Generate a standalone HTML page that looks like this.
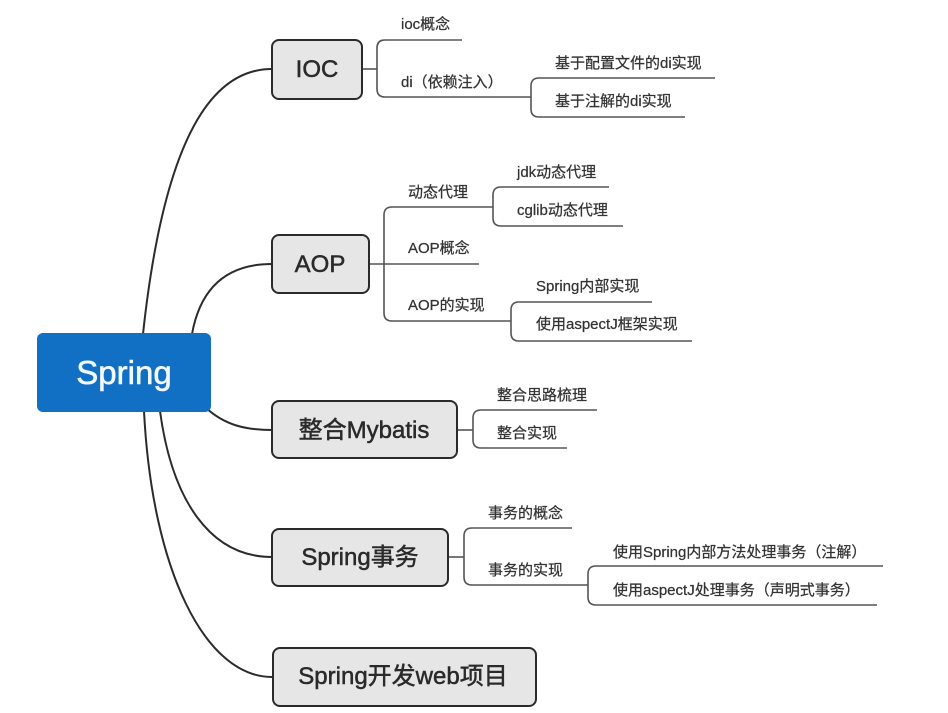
<!DOCTYPE html>
<html><head><meta charset="utf-8"><style>
html,body{margin:0;padding:0;background:#fff;}
svg{display:block;}
.t{font-family:"Liberation Sans","Noto Sans CJK SC",sans-serif;font-size:15px;fill:#333;stroke:#333;stroke-width:0.25;}
.b{font-family:"Liberation Sans","Noto Sans CJK SC",sans-serif;font-size:24px;fill:#2a2a2a;stroke:#2a2a2a;stroke-width:0.5;}
</style></head><body>
<svg width="948" height="713" viewBox="0 0 948 713" xmlns="http://www.w3.org/2000/svg">
<rect width="948" height="713" fill="#fff"/>
<!-- main curves -->
<g fill="none" stroke="#2b2b2b" stroke-width="2">
<path d="M143,334 C165,130 215,69 272,69"/>
<path d="M192,334 C200,290 225,264 272,264"/>
<path d="M206,408 C225,425 245,430 272,430"/>
<path d="M160,411 C172,500 210,557 272,557"/>
<path d="M144,411 C152,570 205,677 272,677"/>
</g>
<!-- sub connectors -->
<g fill="none" stroke="#555" stroke-width="1.6">
<path d="M362,69 H377"/>
<path d="M462,40 H385 Q377,40 377,48 V89 Q377,97 385,97 H531"/>
<path d="M715,78 H539 Q531,78 531,86 V109 Q531,117 539,117 H685"/>
<path d="M369,264 H384 M384,264 H479"/>
<path d="M493,207 H392 Q384,207 384,215 V313 Q384,321 392,321 H511"/>
<path d="M609,187 H501 Q493,187 493,195 V218 Q493,226 501,226 H623"/>
<path d="M652,302 H519 Q511,302 511,310 V333 Q511,341 519,341 H692"/>
<path d="M457,430 H473"/>
<path d="M597,410 H481 Q473,410 473,418 V440 Q473,448 481,448 H567"/>
<path d="M448,557 H464"/>
<path d="M572,528 H472 Q464,528 464,536 V577 Q464,585 472,585 H588"/>
<path d="M883,566 H596 Q588,566 588,574 V597 Q588,605 596,605 H877"/>
</g>
<!-- root -->
<rect x="37" y="333" width="174" height="79" rx="6" fill="#1170c4"/>
<text x="124" y="384" text-anchor="middle" font-family="Liberation Sans, sans-serif" font-size="33" fill="#f2f8ff" stroke="#f2f8ff" stroke-width="0.6">Spring</text>
<!-- boxes -->
<g fill="#e6e6e6" stroke="#2b2b2b" stroke-width="2">
<rect x="272" y="40" width="90" height="59" rx="7"/>
<rect x="272" y="235" width="97" height="58" rx="7"/>
<rect x="272" y="401" width="185" height="57" rx="7"/>
<rect x="272" y="529" width="176" height="57" rx="7"/>
<rect x="273" y="648" width="263" height="58" rx="7"/>
</g>
<text class="b" x="317" y="77" text-anchor="middle">IOC</text>
<text class="b" x="320" y="272" text-anchor="middle">AOP</text>
<text class="b" x="364" y="438" text-anchor="middle">整合Mybatis</text>
<text class="b" x="360" y="565" text-anchor="middle">Spring事务</text>
<text class="b" x="403" y="684" text-anchor="middle">Spring开发web项目</text>
<!-- labels -->
<text class="t" x="401" y="29">ioc概念</text>
<text class="t" x="401" y="87">di（依赖注入）</text>
<text class="t" x="555" y="68">基于配置文件的di实现</text>
<text class="t" x="555" y="106">基于注解的di实现</text>
<text class="t" x="408" y="197">动态代理</text>
<text class="t" x="408" y="253">AOP概念</text>
<text class="t" x="408" y="310">AOP的实现</text>
<text class="t" x="517" y="177">jdk动态代理</text>
<text class="t" x="517" y="215">cglib动态代理</text>
<text class="t" x="536" y="291">Spring内部实现</text>
<text class="t" x="536" y="329">使用aspectJ框架实现</text>
<text class="t" x="497" y="400">整合思路梳理</text>
<text class="t" x="497" y="438">整合实现</text>
<text class="t" x="488" y="518">事务的概念</text>
<text class="t" x="488" y="575">事务的实现</text>
<text class="t" x="613" y="557">使用Spring内部方法处理事务（注解）</text>
<text class="t" x="613" y="595">使用aspectJ处理事务（声明式事务）</text>
</svg>
</body></html>
